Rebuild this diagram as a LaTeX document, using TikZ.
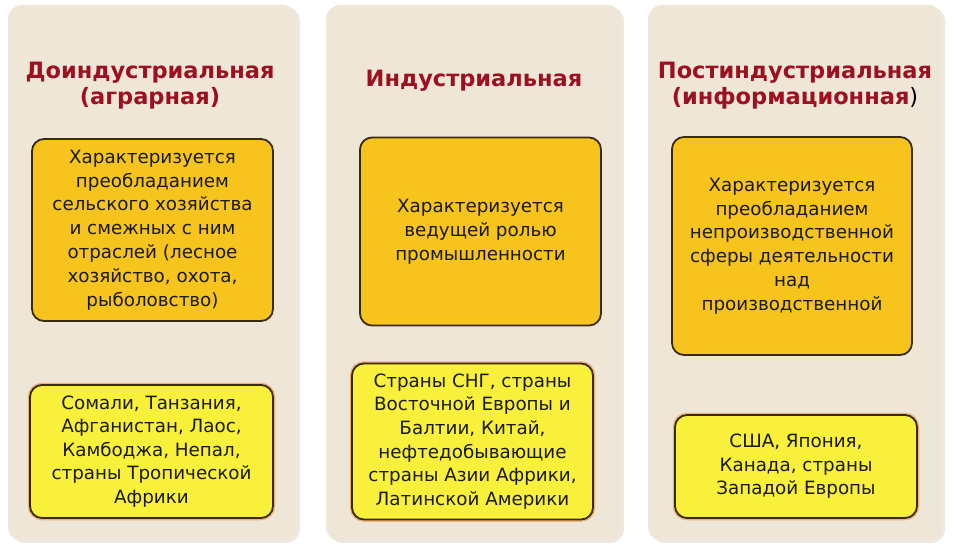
\documentclass[tikz,border=0pt]{standalone}
\usepackage{fontspec}
\setmainfont{DejaVu Sans}
\usetikzlibrary{shadows}
\definecolor{panelbg}{HTML}{EEE7D8}
\definecolor{panelshade}{HTML}{C9C2B4}
\definecolor{boxorange}{HTML}{F6C41C}
\definecolor{boxlemon}{HTML}{F8F03A}
\definecolor{boxline}{HTML}{3A2A10}
\definecolor{glow}{HTML}{EDB27A}
\definecolor{titlered}{HTML}{9C1020}
\tikzset{
  panel/.style={rectangle, rounded corners=14pt, fill=panelbg, draw=none,
    drop shadow={shadow xshift=3pt, shadow yshift=-2pt, opacity=0.35, fill=panelshade}},
  titletext/.style={text=titlered, align=center,
    font=\fontsize{22.5}{26}\selectfont\bfseries, inner sep=0pt},
  upperbox/.style={rectangle, rounded corners=12pt, fill=boxorange, draw=boxline,
    line width=1.8pt, align=center, inner sep=0pt,
    font=\fontsize{18.3}{23.8}\selectfont, text=black!90},
  lowerbox/.style={rectangle, rounded corners=12pt, fill=boxlemon, draw=boxline,
    line width=1.8pt, align=center, inner sep=0pt,
    preaction={draw=glow, line width=4.5pt},
    font=\fontsize{18.3}{23.6}\selectfont, text=black!90}
}
\begin{document}
\begin{tikzpicture}[x=1pt,y=-1pt]
\useasboundingbox (0,0) rectangle (960,548);
\fill[white] (0,0) rectangle (960,548);

% panels
\node[panel, minimum width=289pt, minimum height=536pt] (p1) at (152.5,273) {};
\node[panel, minimum width=295pt, minimum height=536pt] (p2) at (473.5,273) {};
\node[panel, minimum width=294pt, minimum height=536pt] (p3) at (795,273) {};

% titles
\node[titletext] (t1) at (150,86) {Доиндустриальная\\(аграрная)};
\node[titletext] (t2) at (474,81) {Индустриальная};
\node[titletext] (t3) at (795,86) {Постиндустриальная\\(информационная{\color{black}\mdseries)}};

% upper boxes
\node[upperbox, minimum width=241pt, minimum height=182pt] (u1) at (152.5,230) {Характеризуется\\преобладанием\\сельского хозяйства\\и смежных с ним\\отраслей (лесное\\хозяйство, охота,\\рыболовство)};
\node[upperbox, minimum width=241pt, minimum height=188pt] (u2) at (480.5,231.5) {Характеризуется\\ведущей ролью\\промышленности};
\node[upperbox, minimum width=240pt, minimum height=218pt] (u3) at (792,246) {Характеризуется\\преобладанием\\непроизводственной\\сферы деятельности\\над\\производственной};

% lower boxes
\node[lowerbox, minimum width=243pt, minimum height=133pt] (l1) at (151.5,451.5) {Сомали, Танзания,\\Афганистан, Лаос,\\Камбоджа, Непал,\\страны Тропической\\Африки};
\node[lowerbox, minimum width=241pt, minimum height=156pt] (l2) at (472.5,441.5) {Страны СНГ, страны\\Восточной Европы и\\Балтии, Китай,\\нефтедобывающие\\страны Азии Африки,\\Латинской Америки};
\node[lowerbox, minimum width=242pt, minimum height=103pt] (l3) at (796,466.5) {США, Япония,\\Канада, страны\\Западой Европы};
\end{tikzpicture}
\end{document}
